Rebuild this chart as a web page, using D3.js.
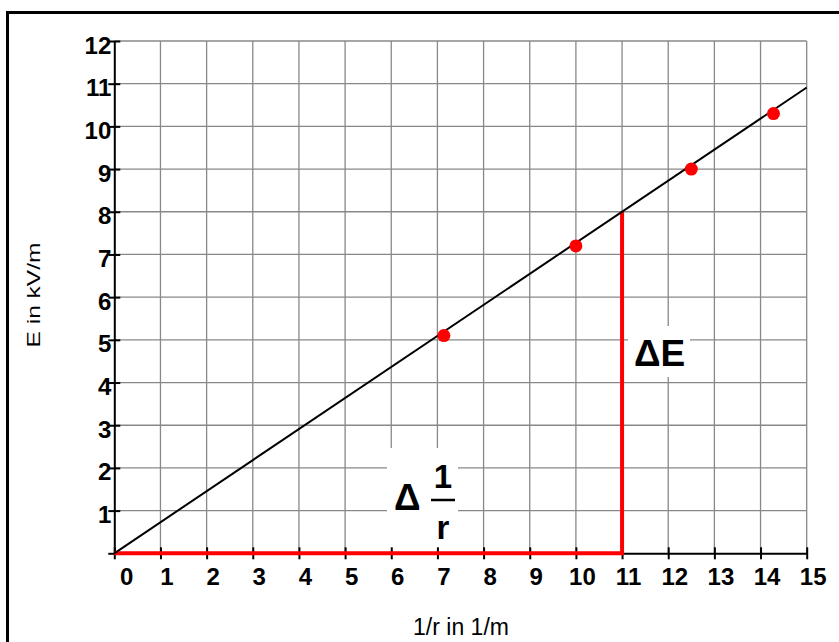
<!DOCTYPE html>
<html>
<head>
<meta charset="utf-8">
<script src="https://cdn.jsdelivr.net/npm/d3@7.9.0/dist/d3.min.js"></script>
<style>
  body { margin: 0; background: #fff; }
  svg { display: block; font-family: "Liberation Sans", Arial, sans-serif; }
  .tick text { font-size: 24px; font-weight: bold; font-family: "Liberation Sans", Arial, sans-serif; }
</style>
</head>
<body>
<svg id="chart" width="839" height="642"></svg>
<script>
// measured points: E over 1/r
const invR = [7.14, 10, 12.5, 14.28];
const eField = [5.1, 7.2, 9.0, 10.3];
// straight fit through the origin
const fitX = [0, 15];
const fitY = [0, 10.91];
// slope triangle (red)
const triX = [0, 11, 11];
const triY = [0, 0, 8];
const xTicks = d3.range(0, 16);
const yTicks = d3.range(0, 13);

const svg = d3.select("#chart");
const x = d3.scaleLinear().domain([0, 15]).range([114.3, 806.7]);
const y = d3.scaleLinear().domain([0, 12]).range([553.3, 41]);

// frame (only left + top visible)
svg.append("path")
  .attr("d", "M7.5,642 L7.5,12.5 L839,12.5")
  .attr("fill", "none").attr("stroke", "#000").attr("stroke-width", 3);

// grid
const grid = svg.append("g").attr("stroke", "#888").attr("stroke-width", 1.3);
xTicks.filter(d => d > 0).forEach(d => {
  grid.append("line").attr("x1", x(d)).attr("x2", x(d)).attr("y1", y(0)).attr("y2", y(12));
});
yTicks.filter(d => d > 0).forEach(d => {
  grid.append("line").attr("x1", x(0)).attr("x2", x(15)).attr("y1", y(d)).attr("y2", y(d));
});

// label backgrounds hide the grid
svg.append("rect").attr("x", 387).attr("y", 448).attr("width", 71).attr("height", 104).attr("fill", "#fff");
svg.append("rect").attr("x", 628).attr("y", 326).attr("width", 62).attr("height", 51).attr("fill", "#fff");

// axes
const xAxis = svg.append("g").attr("transform", `translate(0,${y(0)})`)
  .call(d3.axisBottom(x).tickValues(xTicks).tickSize(6).tickSizeOuter(0));
const yAxis = svg.append("g").attr("transform", `translate(${x(0)},0)`)
  .call(d3.axisLeft(y).tickValues(yTicks).tickSize(6).tickSizeOuter(0));

[xAxis, yAxis].forEach(a => {
  a.attr("font-size", null).attr("font-family", null);
  a.select(".domain").attr("stroke", "#000").attr("stroke-width", 2);
  a.selectAll(".tick line").attr("stroke", "#000").attr("stroke-width", 2);
  a.selectAll("text").attr("fill", "#000");
});
xAxis.selectAll(".tick line").attr("y1", -6).attr("y2", 6);
yAxis.selectAll(".tick line").attr("x1", -6).attr("x2", 6);
xAxis.selectAll(".tick text").attr("y", 0).attr("dy", 32)
  .attr("dx", d => d === 0 ? 12 : 6);
yAxis.selectAll(".tick text").attr("text-anchor", "end").attr("x", -3).attr("dy", 12);
yAxis.selectAll(".tick").filter(d => d === 0).select("text").remove();

// red slope triangle
svg.append("path")
  .attr("d", d3.line().x(d => x(d)).y((d, i) => y(triY[i]))(triX))
  .attr("fill", "none").attr("stroke", "#ff0000").attr("stroke-width", 4);

// fit line
svg.append("path")
  .attr("d", d3.line().x(d => x(d)).y((d, i) => y(fitY[i]))(fitX))
  .attr("fill", "none").attr("stroke", "#000").attr("stroke-width", 2);

// measured points
svg.selectAll("circle.pt").data(invR).join("circle")
  .attr("class", "pt")
  .attr("cx", d => x(d)).attr("cy", (d, i) => y(eField[i]))
  .attr("r", 6.5).attr("fill", "#ff0000");

// delta labels
svg.append("text").attr("x", 394).attr("y", 510).attr("font-size", 37).attr("font-weight", "bold").text("Δ");
svg.append("text").attr("x", 443).attr("y", 488).attr("text-anchor", "middle")
  .attr("font-size", 33).attr("font-weight", "bold").text("1");
svg.append("line").attr("x1", 431).attr("x2", 455).attr("y1", 500).attr("y2", 500)
  .attr("stroke", "#000").attr("stroke-width", 2.5);
svg.append("text").attr("x", 443).attr("y", 539).attr("text-anchor", "middle")
  .attr("font-size", 33).attr("font-weight", "bold").text("r");
svg.append("text").attr("x", 634).attr("y", 366).attr("font-size", 37).attr("font-weight", "bold").text("ΔE");

// axis titles
svg.append("text").attr("x", 461).attr("y", 635).attr("text-anchor", "middle")
  .attr("font-size", 23).text("1/r in 1/m");
svg.append("text").attr("transform", "translate(40,295) rotate(-90)").attr("text-anchor", "middle")
  .attr("font-size", 18).attr("textLength", 105).attr("lengthAdjust", "spacingAndGlyphs")
  .text("E in kV/m");
</script>
</body>
</html>
